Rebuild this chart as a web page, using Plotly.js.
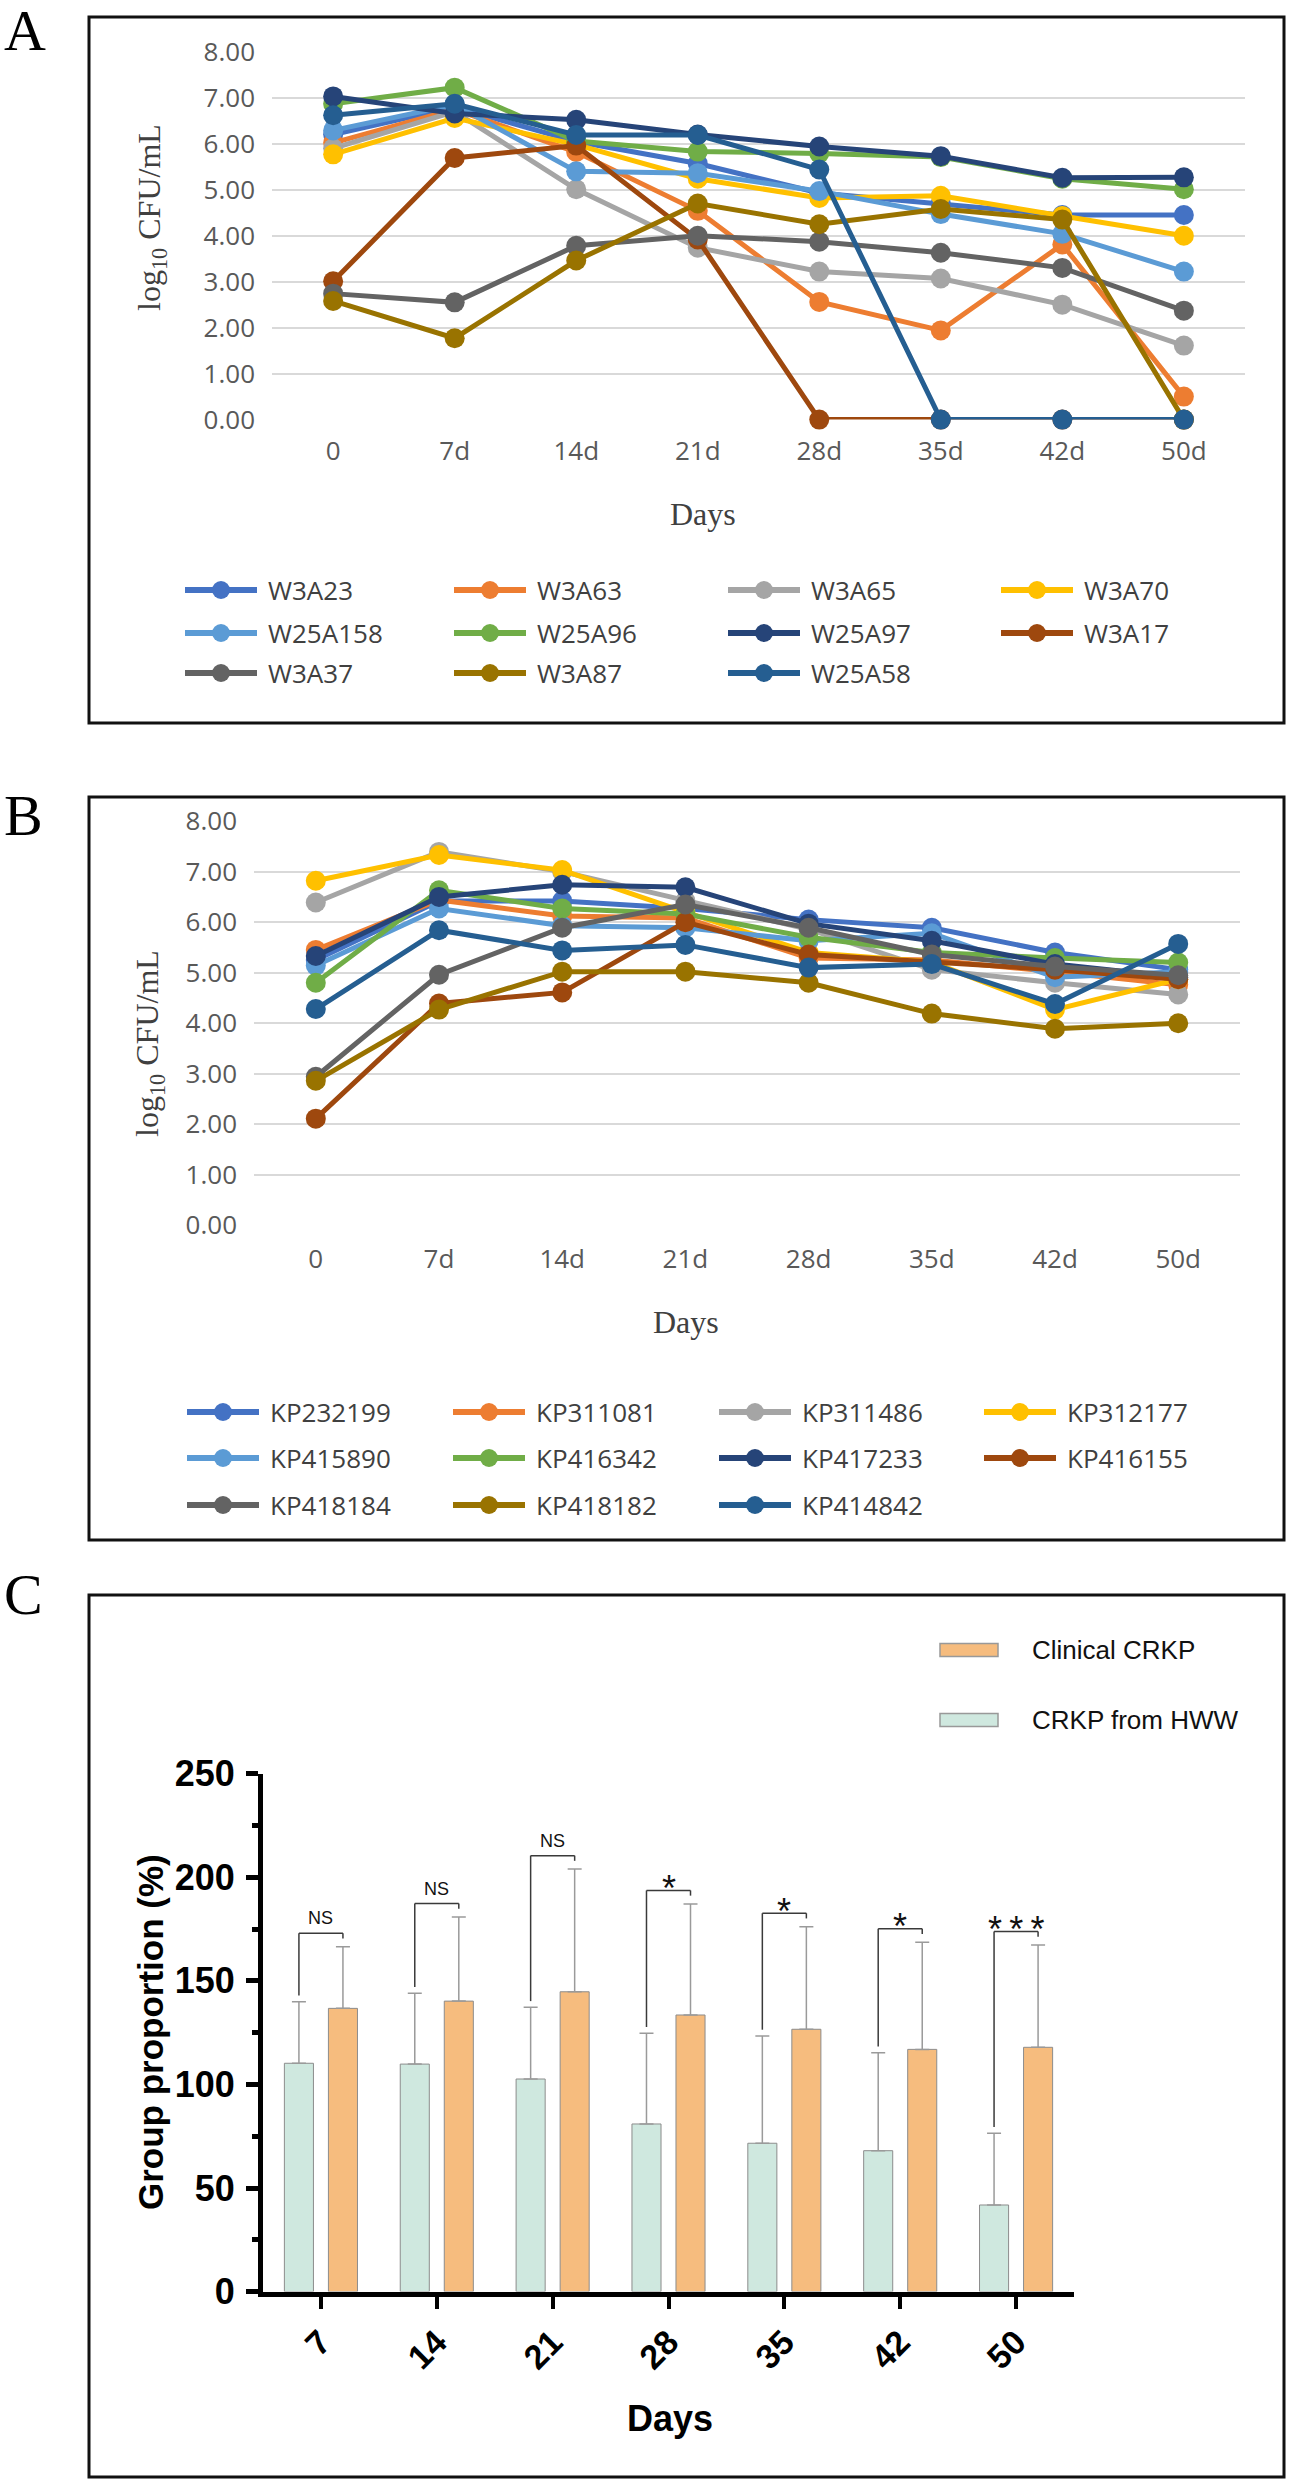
<!DOCTYPE html>
<html>
<head>
<meta charset="utf-8">
<script src="https://cdn.plot.ly/plotly-3.0.1.min.js"></script>
<style>
  body { margin: 0; background: #fff; }
  #chart { width: 1289px; height: 2480px; }
</style>
</head>
<body>
<div id="chart"></div>
<script>
// Sampling days (panels A and B)
const daysAB = ['0', '7d', '14d', '21d', '28d', '35d', '42d', '50d'];

// Panel A - CRKP from hospital waste water (log10 CFU/mL)
const namesA = ['W3A23', 'W3A63', 'W3A65', 'W3A70', 'W25A158', 'W25A96', 'W25A97', 'W3A17', 'W3A37', 'W3A87', 'W25A58'];
const w3a23   = [6.20, 6.80, 6.05, 5.57, 4.93, 4.70, 4.45, 4.45];
const w3a63   = [6.02, 6.75, 5.82, 4.54, 2.56, 1.94, 3.81, 0.50];
const w3a65   = [5.90, 6.70, 5.01, 3.74, 3.22, 3.07, 2.50, 1.61];
const w3a70   = [5.77, 6.56, 5.98, 5.24, 4.82, 4.87, 4.43, 4.00];
const w25a158 = [6.29, 6.85, 5.40, 5.36, 4.97, 4.47, 4.04, 3.22];
const w25a96  = [6.87, 7.22, 6.06, 5.83, 5.79, 5.71, 5.24, 5.01];
const w25a97  = [7.03, 6.66, 6.52, 6.20, 5.94, 5.73, 5.26, 5.27];
const w3a17   = [3.01, 5.69, 5.96, 3.92, 0.00, 0.00, 0.00, 0.00];
const w3a37   = [2.74, 2.55, 3.78, 4.00, 3.87, 3.63, 3.30, 2.37];
const w3a87   = [2.58, 1.77, 3.46, 4.70, 4.25, 4.58, 4.35, 0.00];
const w25a58  = [6.62, 6.87, 6.19, 6.19, 5.44, 0.00, 0.00, 0.00];
const seriesA = [w3a23, w3a63, w3a65, w3a70, w25a158, w25a96, w25a97, w3a17, w3a37, w3a87, w25a58];

// Panel B - clinical CRKP (log10 CFU/mL)
const namesB = ['KP232199', 'KP311081', 'KP311486', 'KP312177', 'KP415890', 'KP416342', 'KP417233', 'KP416155', 'KP418184', 'KP418182', 'KP414842'];
const kp232199 = [5.25, 6.42, 6.42, 6.27, 6.05, 5.89, 5.40, 5.06];
const kp311081 = [5.45, 6.44, 6.12, 6.08, 5.29, 5.25, 5.02, 4.76];
const kp311486 = [6.39, 7.39, 7.00, 6.42, 5.86, 5.06, 4.80, 4.57];
const kp312177 = [6.82, 7.33, 7.03, 6.20, 5.40, 5.21, 4.27, 4.87];
const kp415890 = [5.14, 6.27, 5.93, 5.89, 5.63, 5.78, 4.91, 5.02];
const kp416342 = [4.80, 6.63, 6.27, 6.16, 5.70, 5.40, 5.29, 5.20];
const kp417233 = [5.33, 6.50, 6.74, 6.69, 5.97, 5.63, 5.17, 4.91];
const kp416155 = [2.11, 4.39, 4.61, 6.00, 5.36, 5.21, 5.06, 4.87];
const kp418184 = [2.94, 4.96, 5.89, 6.35, 5.89, 5.36, 5.12, 4.95];
const kp418182 = [2.86, 4.27, 5.02, 5.02, 4.80, 4.19, 3.89, 4.00];
const kp414842 = [4.28, 5.84, 5.44, 5.55, 5.10, 5.17, 4.38, 5.57];
const seriesB = [kp232199, kp311081, kp311486, kp312177, kp415890, kp416342, kp417233, kp416155, kp418184, kp418182, kp414842];

// Panel C - group proportion (%) mean and upper SD
const daysC = ['7', '14', '21', '28', '35', '42', '50'];
const hwwMean  = [110.2, 109.8, 102.6, 80.9, 71.6, 68.0, 41.8];
const hwwErr   = [29.7, 34.2, 34.6, 43.8, 51.8, 47.3, 34.6];
const clinMean = [136.7, 140.2, 144.7, 133.5, 126.6, 116.9, 117.9];
const clinErr  = [29.7, 40.6, 59.2, 53.6, 49.5, 51.7, 49.4];
const sigLabels = ['NS', 'NS', 'NS', '*', '*', '*', '***'];

// Excel style palette, same order for A and B
const lineColors = ['#4472C4', '#ED7D31', '#A5A5A5', '#FFC000', '#5B9BD5', '#70AD47',
                    '#264478', '#9E480E', '#636363', '#997300', '#255E91'];

const W = 1289, H = 2480;
const fx = p => p / W;
const fy = p => 1 - p / H;

const SANS = 'Open Sans';
const SERIF = 'Liberation Serif';
const ARIAL = 'Liberation Sans';

const traces = [];
const shapes = [];
const annotations = [];

// Line panels
function addLines(names, series, xa, ya) {
    names.forEach((name, i) => {
        traces.push({
            x: daysAB,
            y: series[i],
            type: 'scatter',
            mode: 'lines+markers',
            name: name,
            xaxis: xa,
            yaxis: ya,
            cliponaxis: false,
            showlegend: false,
            line: { color: lineColors[i], width: 5 },
            marker: { color: lineColors[i], size: 20 }
        });
    });
}
addLines(namesA, seriesA, 'x', 'y');
addLines(namesB, seriesB, 'x2', 'y2');

// Bars for panel C
traces.push({
    x: daysC, y: hwwMean, type: 'bar', name: 'CRKP from HWW',
    xaxis: 'x3', yaxis: 'y3', showlegend: false,
    marker: { color: '#CFE8DF', line: { color: '#8c8c8c', width: 1 } },
    error_y: { type: 'data', symmetric: false, array: hwwErr, arrayminus: hwwErr.map(() => 0),
               color: '#9a9a9a', thickness: 1.5, width: 7 }
});
traces.push({
    x: daysC, y: clinMean, type: 'bar', name: 'Clinical CRKP',
    xaxis: 'x3', yaxis: 'y3', showlegend: false,
    marker: { color: '#F6BC7E', line: { color: '#8c8c8c', width: 1 } },
    error_y: { type: 'data', symmetric: false, array: clinErr, arrayminus: clinErr.map(() => 0),
               color: '#9a9a9a', thickness: 1.5, width: 7 }
});

// Significance brackets, from bar tops + error
const barGap = 0.24;
const half = (1 - barGap) / 4;   // offset of each bar centre from category centre
daysC.forEach((d, i) => {
    const leftY = hwwMean[i] + hwwErr[i] + 3;
    const top = clinMean[i] + clinErr[i] + 6.5;
    const ln = { color: '#3a3a3a', width: 1.5 };
    shapes.push({ type: 'line', xref: 'x3', yref: 'y3', x0: i - half, x1: i - half, y0: leftY, y1: top, line: ln });
    shapes.push({ type: 'line', xref: 'x3', yref: 'y3', x0: i - half, x1: i + half, y0: top, y1: top, line: ln });
    shapes.push({ type: 'line', xref: 'x3', yref: 'y3', x0: i + half, x1: i + half, y0: top, y1: top - 2.5, line: ln });
    const isNS = sigLabels[i] === 'NS';
    annotations.push({
        xref: 'x3', yref: 'y3', x: i, y: top, showarrow: false,
        text: isNS ? 'NS' : sigLabels[i].split('').join('\u2009'),
        xanchor: 'center', yanchor: 'middle', yshift: isNS ? 15 : 2,
        font: { family: ARIAL, size: isNS ? 18 : 36, color: '#111' }
    });
});

// Custom legends for A and B (line + dot + name)
function addLegend(names, cols, rows) {
    names.forEach((name, i) => {
        const x0 = cols[i % 4], y = rows[Math.floor(i / 4)];
        shapes.push({ type: 'line', xref: 'paper', yref: 'paper', x0: fx(x0), x1: fx(x0 + 72), y0: fy(y), y1: fy(y),
                      line: { color: lineColors[i], width: 6 } });
        shapes.push({ type: 'circle', xref: 'paper', yref: 'paper', x0: fx(x0 + 27), x1: fx(x0 + 45), y0: fy(y + 9), y1: fy(y - 9),
                      fillcolor: lineColors[i], line: { color: lineColors[i], width: 0 } });
        annotations.push({ xref: 'paper', yref: 'paper', x: fx(x0 + 81), y: fy(y), xanchor: 'left', yanchor: 'middle',
                           showarrow: false, text: name, font: { family: SANS, size: 26, color: '#404040' } });
    });
}
addLegend(namesA, [185, 454, 728, 1001], [590, 633, 673]);
addLegend(namesB, [187, 453, 719, 984], [1412, 1458, 1505]);

// Legend for C
[['Clinical CRKP', '#F6BC7E', 1650], ['CRKP from HWW', '#CFE8DF', 1720]].forEach(([txt, col, y]) => {
    shapes.push({ type: 'rect', xref: 'paper', yref: 'paper', x0: fx(940), x1: fx(998), y0: fy(y + 6.5), y1: fy(y - 6.5),
                  fillcolor: col, line: { color: '#999', width: 1.5 } });
    annotations.push({ xref: 'paper', yref: 'paper', x: fx(1030), y: fy(y), xanchor: 'left', yanchor: 'middle',
                       showarrow: false, text: txt, font: { family: ARIAL, size: 26, color: '#111' } });
});

// Panel frames
[[17, 723], [797, 1540], [1595, 2477]].forEach(([t, b]) => {
    shapes.push({ type: 'rect', xref: 'paper', yref: 'paper', x0: fx(89), x1: fx(1284), y0: fy(b), y1: fy(t),
                  line: { color: '#111', width: 3 }, fillcolor: 'rgba(0,0,0,0)', layer: 'below' });
});

// Panel letters and titles
function note(text, x, y, font, extra) {
    annotations.push(Object.assign({ xref: 'paper', yref: 'paper', x: fx(x), y: fy(y), showarrow: false,
                                     xanchor: 'center', yanchor: 'middle', text: text, font: font }, extra || {}));
}
const letterFont = { family: SERIF, size: 58, color: '#000' };
note('A', 2, 31, letterFont, { xanchor: 'left' });
note('B', 2, 815, letterFont, { xanchor: 'left' });
note('C', 2, 1594, letterFont, { xanchor: 'left' });

const titleFont = { family: SERIF, size: 32, color: '#404040' };
note('Days', 703, 514, titleFont);
note('Days', 686, 1322, titleFont);
note('log<sub>10</sub> CFU/mL', 152, 218, titleFont, { textangle: -90 });
note('log<sub>10</sub> CFU/mL', 150, 1044, titleFont, { textangle: -90 });

const boldFont = { family: ARIAL, size: 35, color: '#000', weight: 'bold' };
note('Group proportion (%)', 150, 2032, boldFont, { textangle: -90 });
note('Days', 670, 2418, Object.assign({}, boldFont, { size: 36 }));

// Axes
const tickFontAB = { family: SANS, size: 26, color: '#595959' };
function lineYAxis(top, bottom, anchor) {
    return {
        domain: [fy(bottom), fy(top)], anchor: anchor, range: [0, 8], dtick: 1, tickformat: '.2f',
        showgrid: true, gridcolor: '#D9D9D9', gridwidth: 2, zeroline: false, showline: false,
        ticks: '', tickfont: tickFontAB, ticklabelstandoff: 16, fixedrange: true
    };
}
function lineXAxis(left, right, anchor, standoff) {
    return {
        domain: [fx(left), fx(right)], anchor: anchor, type: 'category',
        showgrid: false, zeroline: false, showline: false, ticks: '',
        tickfont: tickFontAB, ticklabelstandoff: standoff, fixedrange: true
    };
}

const layout = {
    width: W, height: H,
    margin: { l: 0, r: 0, t: 0, b: 0 },
    paper_bgcolor: '#fff', plot_bgcolor: 'rgba(0,0,0,0)',
    showlegend: false,
    barmode: 'group', bargap: barGap, bargroupgap: 0.34,
    font: { family: SANS },
    xaxis: lineXAxis(272, 1245, 'y', 13),
    yaxis: lineYAxis(51.8, 419.6, 'x'),
    xaxis2: lineXAxis(254, 1240, 'y2', 16),
    yaxis2: lineYAxis(821.1, 1225.3, 'x2'),
    xaxis3: {
        domain: [fx(263), fx(1074)], anchor: 'y3', type: 'category',
        showline: true, linewidth: 5, linecolor: '#000',
        ticks: 'outside', ticklen: 12, tickwidth: 4, tickcolor: '#000',
        tickangle: -45, showgrid: false, zeroline: false,
        tickfont: { family: ARIAL, size: 34, color: '#000', weight: 'bold' }
    },
    yaxis3: {
        domain: [fy(2291.6), fy(1773.6)], anchor: 'x3', range: [0, 250], dtick: 50,
        showline: true, linewidth: 5, linecolor: '#000',
        ticks: 'outside', ticklen: 12, tickwidth: 5, tickcolor: '#000',
        minor: { dtick: 25, ticks: 'outside', ticklen: 6, tickwidth: 5, tickcolor: '#000' },
        showgrid: false, zeroline: false, ticklabelstandoff: 4,
        tickfont: { family: ARIAL, size: 36, color: '#000', weight: 'bold' }
    },
    shapes: shapes,
    annotations: annotations
};

Plotly.newPlot('chart', traces, layout, { staticPlot: true, displayModeBar: false });
</script>
</body>
</html>
